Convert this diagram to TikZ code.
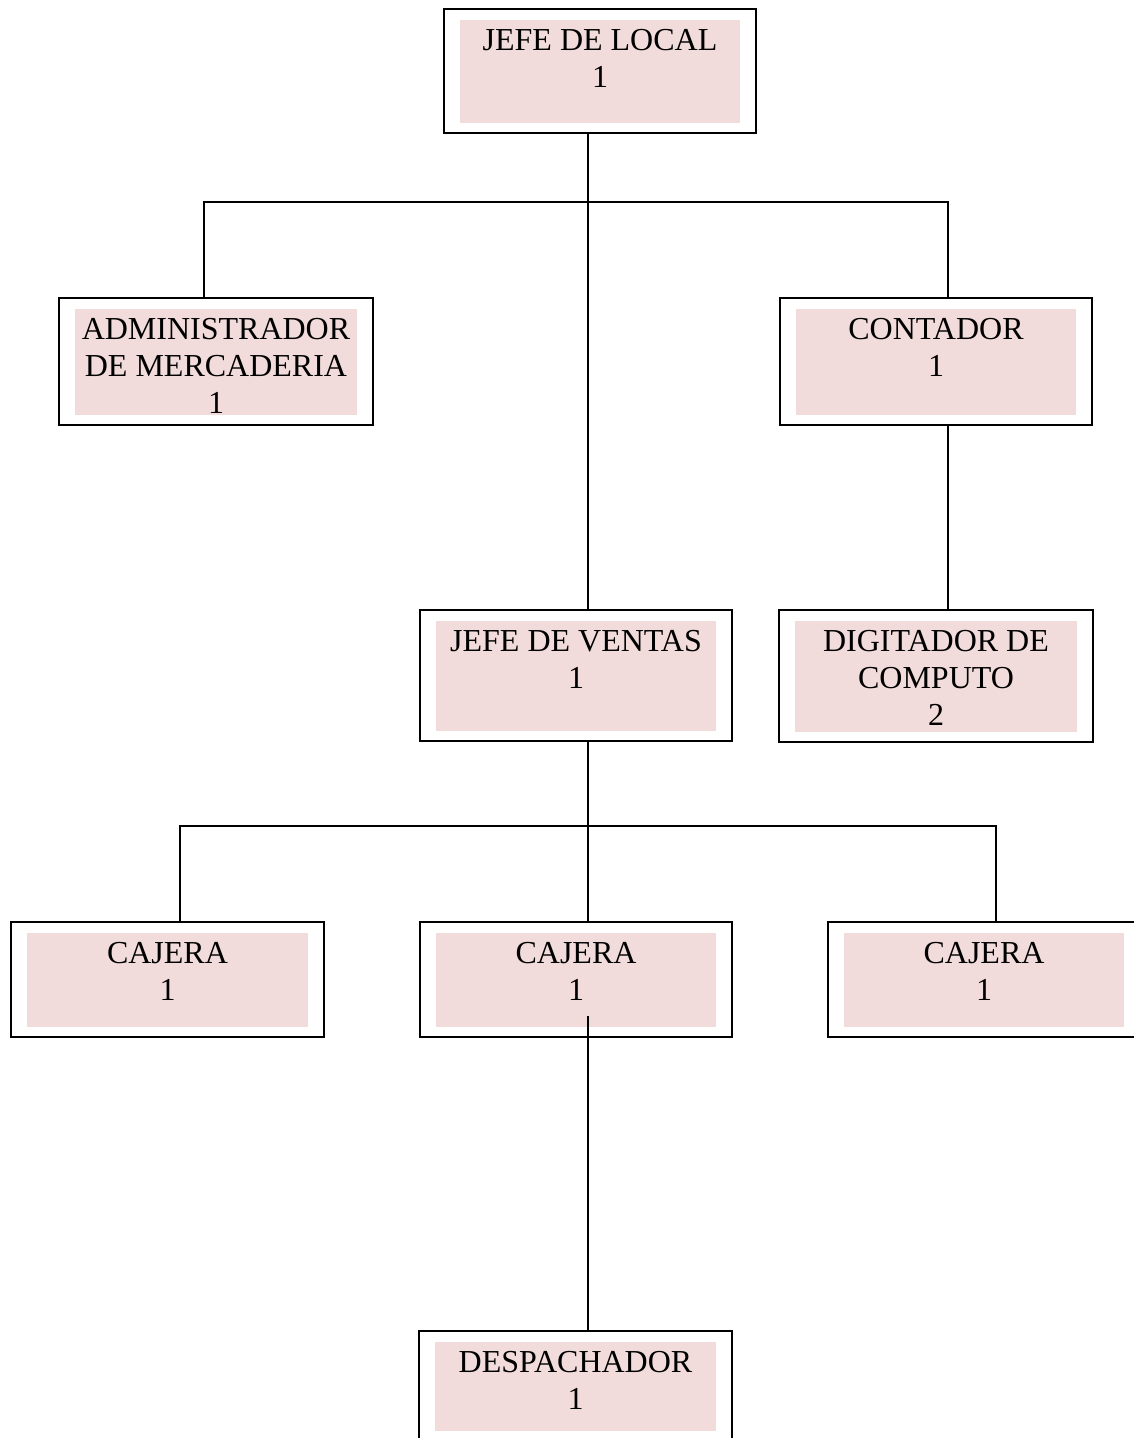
\documentclass[tikz,border=0pt]{standalone}
\usepackage{fontspec}
\setmainfont{Liberation Serif}
\definecolor{pinkfill}{HTML}{F2DCDB}
\begin{document}
\begin{tikzpicture}[x=1pt,y=-1pt,
  orgbox/.style={draw=black, line width=2pt, minimum width=312pt, inner sep=0pt, outer sep=0pt,
    path picture={\fill[pinkfill] ([shift={(16pt,10pt)}]path picture bounding box.south west)
      rectangle ([shift={(-16pt,-11pt)}]path picture bounding box.north east);}},
  orgtext/.style={anchor=north, inner sep=0pt, align=center,
    font=\fontsize{32pt}{37pt}\selectfont},
  conn/.style={line width=2pt, line cap=rect}
]
\useasboundingbox (0,0) rectangle (1134,1438);

% boxes
\node[orgbox, minimum height=124pt] (jl) at (600,71) {};
\node[orgbox, minimum height=127pt, minimum width=314pt] (adm) at (216,361.5) {};
\node[orgbox, minimum height=127pt] (cont) at (936,361.5) {};
\node[orgbox, minimum height=131pt] (jv) at (576,675.5) {};
\node[orgbox, minimum height=132pt, minimum width=314pt] (dig) at (936,676) {};
\node[orgbox, minimum height=115pt, minimum width=313pt] (caj1) at (167.5,979.5) {};
\node[orgbox, minimum height=115pt] (caj2) at (576,979.5) {};
\node[orgbox, minimum height=115pt] (caj3) at (984,979.5) {};
\node[orgbox, minimum height=110pt, minimum width=313pt] (desp) at (575.5,1386) {};

% texts
\node[orgtext] (jl-t) at ([yshift=-15pt]jl.north) {\strut JEFE DE LOCAL\\1};
\node[orgtext] (adm-t) at ([yshift=-15pt]adm.north) {\strut ADMINISTRADOR\\DE MERCADERIA\\1};
\node[orgtext] (cont-t) at ([yshift=-15pt]cont.north) {\strut CONTADOR\\1};
\node[orgtext] (jv-t) at ([yshift=-15pt]jv.north) {\strut JEFE DE VENTAS\\1};
\node[orgtext] (dig-t) at ([yshift=-15pt]dig.north) {\strut DIGITADOR DE\\COMPUTO\\2};
\node[orgtext] (caj1-t) at ([yshift=-15pt]caj1.north) {\strut CAJERA\\1};
\node[orgtext] (caj2-t) at ([yshift=-15pt]caj2.north) {\strut CAJERA\\1};
\node[orgtext] (caj3-t) at ([yshift=-15pt]caj3.north) {\strut CAJERA\\1};
\node[orgtext] (desp-t) at ([yshift=-15pt]desp.north) {\strut DESPACHADOR\\1};

% junction coordinates
\coordinate (h1) at (588,202);
\coordinate (h2) at (588,826);

% connectors
\draw[conn] ([xshift=-12pt]jl.south) -- ([xshift=12pt]jv.north);
\draw[conn] ([xshift=-12pt]adm.north) |- (h1) -| ([xshift=12pt]cont.north);
\draw[conn] ([xshift=12pt]cont.south) -- ([xshift=12pt]dig.north);
\draw[conn] ([xshift=12pt]jv.south) -- ([xshift=12pt]caj2.north);
\draw[conn] ([xshift=12.5pt]caj1.north) |- (h2) -| ([xshift=12pt]caj3.north);
\draw[conn] ([xshift=12pt,yshift=20pt]caj2.south) -- ([xshift=12.5pt]desp.north);
\end{tikzpicture}
\end{document}
